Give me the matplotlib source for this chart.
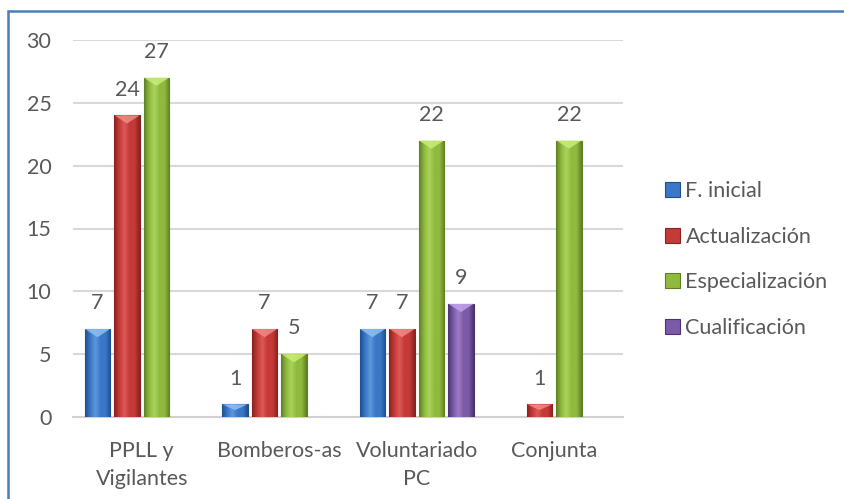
import numpy as np
import matplotlib
matplotlib.use("Agg")
import matplotlib.pyplot as plt
from matplotlib.patches import Rectangle, Polygon, Patch
from matplotlib.colors import LinearSegmentedColormap

categories = ["PPLL y\nVigilantes", "Bomberos-as", "Voluntariado\nPC", "Conjunta"]
series_names = ["F. inicial", "Actualización", "Especialización", "Cualificación"]
f_inicial = [7, 1, 7, None]
actualizacion = [24, 7, 7, 1]
especializacion = [27, 5, 22, 22]
cualificacion = [None, None, 9, None]
yticks = [0, 5, 10, 15, 20, 25, 30]

series_values = [f_inicial, actualizacion, especializacion, cualificacion]
# (dark, base, light)
palette = [
    ("#1f4f8f", "#3a77c6", "#5e98dc"),
    ("#8a2220", "#c43a37", "#dc5a56"),
    ("#5f7f24", "#8fba3e", "#aad35a"),
    ("#4a3470", "#7c5aa8", "#9c7cc6"),
]
bevel_colors = ["#8fc0f2", "#f08a86", "#c8ec7a", "#c0a4e8"]

text_color = "#595959"
FS = 15.5
plt.rcParams["font.family"] = ["Lato", "DejaVu Sans"]

fig = plt.figure(figsize=(8.45, 4.99), dpi=100)
ax = fig.add_axes([73 / 845, 1 - 417 / 499, 550 / 845, 377 / 499])
ax.set_xlim(-0.5, len(categories) - 0.5)
ax.set_ylim(0, 30)

pitch = 0.2145
width = 0.182
x = np.arange(len(categories))

for si, vals in enumerate(series_values):
    dark, base, light = palette[si]
    cmap = LinearSegmentedColormap.from_list(
        f"g{si}", [dark, base, light, base, base, dark])
    grad = np.linspace(0, 1, 64).reshape(1, -1)
    for ci, v in enumerate(vals):
        if v is None:
            continue
        xc = x[ci] + (si - 1.5) * pitch
        bars = ax.bar(xc, v, width=width, color=base, edgecolor=dark,
                      linewidth=0.8, zorder=3)
        rect = bars[0]
        im = ax.imshow(grad, cmap=cmap, aspect="auto",
                       extent=(xc - width / 2, xc + width / 2, 0, v),
                       zorder=3.5, interpolation="bilinear")
        im.set_clip_path(rect)
        bh = min(0.65, v * 0.45)
        tri = Polygon([(xc - width / 2, v), (xc + width / 2, v), (xc, v - bh)],
                      closed=True, facecolor=bevel_colors[si], edgecolor="none",
                      alpha=0.85, zorder=4)
        ax.add_patch(tri)
        ax.text(xc, v + 2.05, f"{v}", ha="center", va="center",
                fontsize=FS, color=text_color, zorder=5)

ax.set_xlim(-0.5, len(categories) - 0.5)
ax.set_ylim(0, 30)
ax.set_yticks(yticks)
ax.set_yticklabels([str(t) for t in yticks])
ax.set_xticks(x)
ax.set_xticklabels(categories, linespacing=1.5)
ax.tick_params(axis="both", length=0, labelsize=FS, labelcolor=text_color)
ax.tick_params(axis="y", pad=15.5)
ax.tick_params(axis="x", pad=17.5)
ax.grid(axis="y", color="#d9d9d9", linewidth=1.5, zorder=0)
ax.set_axisbelow(True)
for s in ["top", "right", "left"]:
    ax.spines[s].set_visible(False)
ax.spines["bottom"].set_color("#d0d0d0")
ax.spines["bottom"].set_linewidth(1.5)
ax.spines["bottom"].set_zorder(2)

handles = [Patch(facecolor=palette[i][1], edgecolor=palette[i][0], linewidth=0.8)
           for i in range(4)]
leg = fig.legend(handles, series_names, loc="center left",
                 bbox_to_anchor=(665 / 845, 1 - 259.5 / 499), frameon=False,
                 fontsize=FS, labelcolor=text_color, handlelength=0.7,
                 handleheight=0.7, handletextpad=0.25, labelspacing=1.18,
                 borderpad=0, borderaxespad=0)

border = Rectangle((8 / 845, -0.1), 1.2, 1 - 11 / 499 + 0.1,
                   transform=fig.transFigure, fill=False,
                   edgecolor="#4a7ebb", linewidth=1.8, clip_on=False)
fig.patches.append(border)

fig.savefig("out.png", dpi=100)
